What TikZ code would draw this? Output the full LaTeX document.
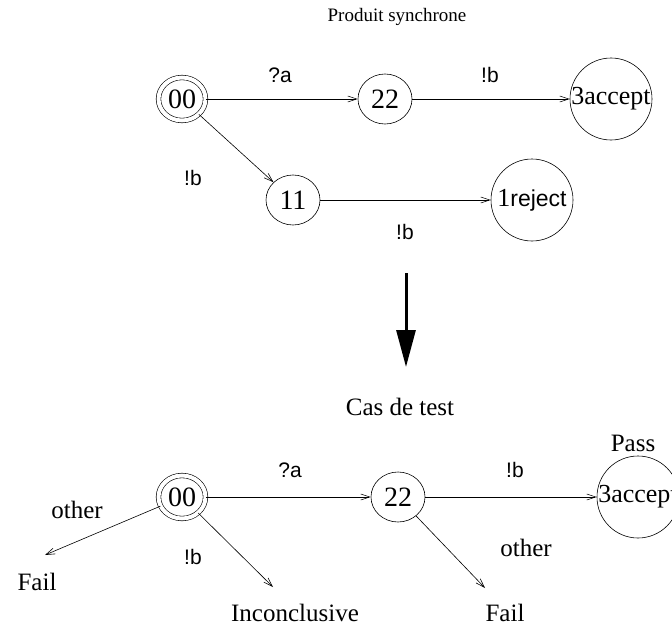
\documentclass[tikz,border=0pt]{standalone}
\usepackage{fontspec}
\setmainfont{Liberation Serif}
\newfontfamily\helv{Liberation Sans}
\usetikzlibrary{shapes.geometric,arrows.meta}
\tikzset{
  etat/.style={draw, ellipse, inner sep=0pt, minimum width=54pt, minimum height=50pt,
    font=\fontsize{28}{28}\selectfont},
  initial/.style={etat, double, double distance=4pt, minimum width=47pt, minimum height=43pt},
  final/.style={etat, minimum width=82pt, minimum height=82pt, font=\fontsize{26}{26}\selectfont},
  lbl/.style={font=\helv\fontsize{21}{21}\selectfont},
  txt/.style={font=\fontsize{25}{25}\selectfont}
}
\begin{document}
\begin{tikzpicture}[x=1pt, y=-1pt, line width=0.6pt, >={Straight Barb[length=9pt,width=6pt]}]
\useasboundingbox (0,0) rectangle (672,626);
% produit synchrone
\node[font=\fontsize{19}{19}\selectfont] (titre1) at (397,17) {Produit synchrone};
\node[initial] (a00) at (182,99) {00};
\node[etat] (a22) at (385,99) {22};
\node[final] (a3) at (611,99) {\makebox[0pt]{3accept}};
\node[etat] (a11) at (293,200) {11};
\node[final] (a1) at (532,200) {\makebox[0pt]{1{\helv\fontsize{23}{23}\selectfont reject}}};
\draw[->] (a00) -- (a22);
\draw[->] (a22) -- (a3);
\draw[->] (a00) -- (a11);
\draw[->] (a11) -- (a1);
\node[lbl] (la) at (280,75) {?a};
\node[lbl] (lb) at (490,75) {!b};
\node[lbl] (lc) at (193,178) {!b};
\node[lbl] (ld) at (405,232) {!b};
% passage au cas de test
\coordinate (h) at (406,273);
\coordinate (t) at (406,367);
\draw[line width=3pt, -{Triangle[length=37pt,width=19pt]}] (h) -- (t);
\node[txt] (titre2) at (400,407) {Cas de test};
% cas de test
\node[initial] (b00) at (182,497) {00};
\node[etat] (b22) at (398,497) {22};
\node[final] (b3) at (638,497) {\makebox[0pt]{3accept}};
\draw[->] (b00) -- (b22);
\draw[->] (b22) -- (b3);
\node[lbl] (le) at (290,470) {?a};
\node[lbl] (lf) at (515,470) {!b};
\node[txt] (pass) at (633,443) {Pass};
\coordinate (f1) at (45,555);
\coordinate (f2) at (273,587);
\coordinate (f3) at (485,588);
\draw[->] (b00) -- (f1);
\draw[->] (b00) -- (f2);
\draw[->] (b22) -- (f3);
\node[txt] (o1) at (77,510) {other};
\node[txt] (fail1) at (37,582) {Fail};
\node[lbl] (lg) at (193,557) {!b};
\node[txt] (inc) at (295,613) {Inconclusive};
\node[txt] (o2) at (526,548) {other};
\node[txt] (fail2) at (505,613) {Fail};
\end{tikzpicture}
\end{document}
